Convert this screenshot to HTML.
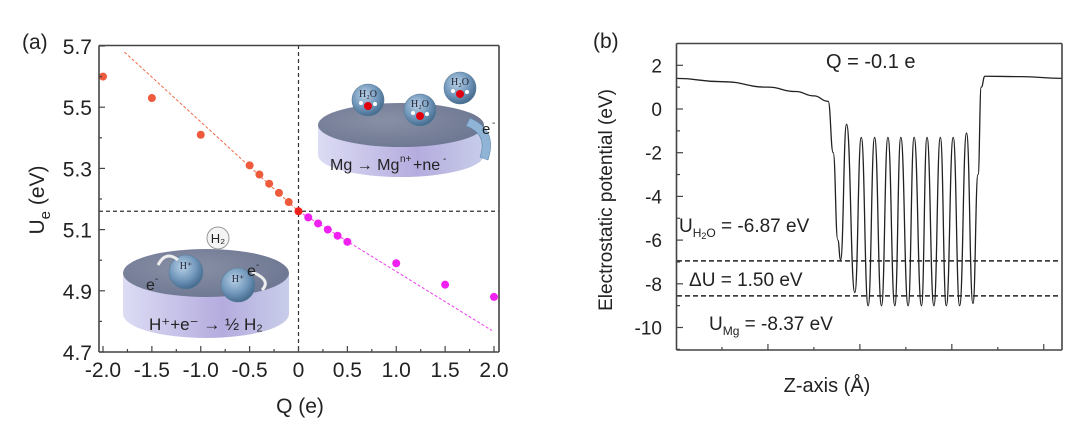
<!DOCTYPE html>
<html><head><meta charset="utf-8"><style>
body{margin:0;background:#fff;width:1080px;height:428px;overflow:hidden}
svg{font-family:"Liberation Sans",Arial,sans-serif}
</style></head><body>
<svg id="fig" width="1080" height="428" viewBox="0 0 1080 428">
<defs>
<linearGradient id="side" x1="0" x2="1" y1="0" y2="0"><stop offset="0" stop-color="#dcdcf4"/><stop offset="0.6" stop-color="#b4acde"/><stop offset="1" stop-color="#c8cdea"/></linearGradient>
<radialGradient id="top" cx="0.4" cy="0.4" r="0.7"><stop offset="0" stop-color="#8890a6"/><stop offset="1" stop-color="#6c7590"/></radialGradient>
<radialGradient id="ball" cx="0.4" cy="0.35" r="0.7"><stop offset="0" stop-color="#b8d0e6"/><stop offset="0.6" stop-color="#6d94b8"/><stop offset="1" stop-color="#3e6486"/></radialGradient>
</defs>
<g id="pa"></g>
<g id="pb"></g>
</svg>
<script>
// ---------- Panel (a) data ----------
const qNeg=[-2,-1.5,-1,-0.5,-0.4,-0.3,-0.2,-0.1,0];
const uNeg=[5.60,5.53,5.41,5.31,5.28,5.25,5.22,5.19,5.16];
const qPos=[0.1,0.2,0.3,0.4,0.5,1,1.5,2];
const uPos=[5.14,5.12,5.10,5.08,5.06,4.99,4.92,4.88];
const fitNeg=[[-1.78,5.68],[0,5.16]];
const fitPos=[[0,5.16],[1.98,4.77]];
const xTicksA=[-2,-1.5,-1,-0.5,0,0.5,1,1.5,2];
const xTickLabelsA=["-2.0","-1.5","-1.0","-0.5","0","0.5","1.0","1.5","2.0"];
const yTicksA=[4.7,4.9,5.1,5.3,5.5,5.7];
const yTickLabelsA=["4.7","4.9","5.1","5.3","5.5","5.7"];
// ---------- Panel (b) data ----------
const zPts=[0,1,2,2.6,3.0,3.31,3.42,3.52,3.58,3.71,3.89,4.03,4.18,4.32,4.47,4.61,4.76,4.89,5.05,5.18,5.34,5.46,5.61,5.75,5.88,6.03,6.17,6.32,6.46,6.57,6.64,6.72,7.5,8.4];
const vPts=[1.4,1.25,1.0,0.8,0.6,0.35,-2,-6,-6.9,-0.7,-8.4,-1.3,-9,-1.3,-9,-1.3,-9,-1.3,-9,-1.3,-9,-1.3,-9,-1.3,-9,-1.3,-9,-1.1,-8.9,-3,1.0,1.5,1.48,1.4];
const uH2O=-6.95, uMg=-8.55;
const yTicksB=[-10,-8,-6,-4,-2,0,2];
const yTickLabelsB=["-10","-8","-6","-4","-2","0","2"];
const zTicksB=[1,2,3,4,5,6,7,8];

const NS="http://www.w3.org/2000/svg";
function mk(p,tag,at,txt){const e=document.createElementNS(NS,tag);for(const k in at)e.setAttribute(k,at[k]);if(txt!==undefined)e.textContent=txt;p.appendChild(e);return e;}
function frame(g,x0,y0,x1,y1){
 [[x0,y0,x1,y0],[x1,y0,x1,y1],[x0,y1,x1,y1],[x0,y0,x0,y1]].forEach(s=>{
  mk(g,'line',{x1:s[0],y1:s[1],x2:s[2],y2:s[3],stroke:'#444','stroke-width':1.6});});
}
// ---- Panel a ----
const A=document.getElementById('pa');
const ax=q=>103+(q+2)*97.75, ay=u=>46+(5.7-u)*306;
let e;
function disk(g,cx,cy,rx,ry,h){
 mk(g,'path',{d:`M${cx-rx},${cy} L${cx-rx},${cy+h} A${rx},${ry} 0 0 0 ${cx+rx},${cy+h} L${cx+rx},${cy} Z`,fill:'url(#side)'});
 mk(g,'ellipse',{cx:cx,cy:cy,rx:rx,ry:ry,fill:'url(#top)'});
}
function ball(g,x,y,r,t,sub){
 mk(g,'circle',{cx:x,cy:y,r:r,fill:'url(#ball)',stroke:'#5a7a96','stroke-width':0.6});
 mk(g,'text',{x:x,y:y-3,'font-family':'Liberation Serif,serif','font-size':10,'text-anchor':'middle',fill:'#223'},t);
 if(sub){mk(g,'circle',{cx:x,cy:y+6,r:4,fill:'#e00010'});mk(g,'circle',{cx:x-7,cy:y+3,r:2,fill:'#fff'});mk(g,'circle',{cx:x+7,cy:y+4,r:2,fill:'#fff'});}
}
const il1=mk(A,'g',{});


disk(il1,401,125,83,22,30);
ball(il1,368,100,16,'H₂O',1);ball(il1,420,110,16,'H₂O',1);ball(il1,460,88,16,'H₂O',1);
mk(il1,'path',{d:'M470,118 Q498,130 488,160 L480,157 Q488,134 466,126 Z',fill:'#8fb4d6',stroke:'#5e86aa','stroke-width':0.6});
mk(il1,'text',{x:330,y:170,'font-size':16,fill:'#222'},'Mg → Mg');
mk(il1,'text',{x:400,y:162,'font-size':10,fill:'#222'},'n+');
mk(il1,'text',{x:413,y:170,'font-size':16,fill:'#222'},'+ne');
mk(il1,'text',{x:443,y:162,'font-size':10,fill:'#222'},'-');
mk(il1,'text',{x:482,y:134,'font-size':15,fill:'#222'},'e');
mk(il1,'text',{x:492,y:126,'font-size':10,fill:'#222'},'-');
const il2=mk(A,'g',{});


disk(il2,206,273,83,24,41);
mk(il2,'circle',{cx:218,cy:238,r:11,fill:'#f4f4f4',stroke:'#999','stroke-width':1});
mk(il2,'text',{x:218,y:243,'font-size':13,'text-anchor':'middle',fill:'#222'},'H₂');
ball(il2,186,272,17,'H⁺',0);ball(il2,238,285,17,'H⁺',0);
mk(il2,'path',{d:'M158,265 Q166,250 178,260',fill:'none',stroke:'#eee','stroke-width':3});
mk(il2,'path',{d:'M252,272 Q272,280 262,290',fill:'none',stroke:'#eee','stroke-width':3});
mk(il2,'text',{x:146,y:290,'font-size':16,fill:'#222'},'e');
mk(il2,'text',{x:155,y:282,'font-size':10,fill:'#222'},'-');
mk(il2,'text',{x:247,y:276,'font-size':16,fill:'#222'},'e');
mk(il2,'text',{x:256,y:268,'font-size':10,fill:'#222'},'-');
mk(il2,'text',{x:149,y:330,'font-size':17,fill:'#222'},'H⁺+e⁻ → ½ H₂');
e=mk(A,'line',{x1:ax(fitNeg[0][0]),y1:ay(fitNeg[0][1]),x2:ax(fitNeg[1][0]),y2:ay(fitNeg[1][1]),stroke:'#f06a4a','stroke-width':1,'stroke-dasharray':'3,2'});


e=mk(A,'line',{x1:ax(fitPos[0][0]),y1:ay(fitPos[0][1]),x2:ax(fitPos[1][0]),y2:ay(fitPos[1][1]),stroke:'#f040f0','stroke-width':1,'stroke-dasharray':'3,2'});


e=mk(A,'line',{x1:99,y1:ay(5.16),x2:499,y2:ay(5.16),stroke:'#333','stroke-width':1.2,'stroke-dasharray':'4,3'});


e=mk(A,'line',{x1:ax(0),y1:45,x2:ax(0),y2:352,stroke:'#333','stroke-width':1.2,'stroke-dasharray':'4,3'});


qNeg.forEach((q,i)=>{const c=mk(A,'circle',{cx:ax(q),cy:ay(uNeg[i]),r:4,fill:i==qNeg.length-1?'#f0201a':'#ee5a3c'});

});
qPos.forEach((q,i)=>{const c=mk(A,'circle',{cx:ax(q),cy:ay(uPos[i]),r:4,fill:'#f020f0'});

});
const fa=mk(A,'g',{});


frame(fa,99,45.5,499,352);
xTicksA.forEach((q,i)=>{mk(A,'line',{x1:ax(q),y1:352,x2:ax(q),y2:346,stroke:'#444','stroke-width':1.2});
 if(i<xTicksA.length-1)mk(A,'line',{x1:ax(q+0.25),y1:352,x2:ax(q+0.25),y2:349,stroke:'#444','stroke-width':1.2});
 const t=mk(A,'text',{x:ax(q),y:377,'font-size':21,'text-anchor':'middle',fill:'#222'},xTickLabelsA[i]);
 
 });
yTicksA.forEach((u,i)=>{mk(A,'line',{x1:99,y1:ay(u),x2:105,y2:ay(u),stroke:'#444','stroke-width':1.2});
 if(i<yTicksA.length-1)mk(A,'line',{x1:99,y1:ay(u+0.1),x2:102,y2:ay(u+0.1),stroke:'#444','stroke-width':1.2});
 const t=mk(A,'text',{x:92,y:ay(u)+8,'font-size':21,'text-anchor':'end',fill:'#222'},yTickLabelsA[i]);
 
 });
e=mk(A,'text',{x:300,y:413,'font-size':21,'text-anchor':'middle',fill:'#222'},'Q (e)');


e=mk(A,'text',{transform:'translate(44,200) rotate(-90)','font-size':21,'text-anchor':'middle',fill:'#222'});
e.innerHTML='U<tspan font-size="15" dy="6">e</tspan><tspan dy="-6"> (eV)</tspan>';


e=mk(A,'text',{x:22,y:49,'font-size':21,fill:'#222'},'(a)');



// ---- Panel b ----
const B=document.getElementById('pb');
const bx=z=>676+z*45.97, by=v=>109-v*21.85;
let d=`M${bx(zPts[0])},${by(vPts[0])}`;
for(let i=1;i<zPts.length;i++){const x0=bx(zPts[i-1]),x1=bx(zPts[i]),y0=by(vPts[i-1]),y1=by(vPts[i]),m=(x0+x1)/2;
 d+=` C${m},${y0} ${m},${y1} ${x1},${y1}`;}
e=mk(B,'path',{d:d,fill:'none',stroke:'#222','stroke-width':1.3});


e=mk(B,'line',{x1:677,y1:by(uH2O),x2:1059,y2:by(uH2O),stroke:'#222','stroke-width':1.5,'stroke-dasharray':'5,3'});


e=mk(B,'line',{x1:677,y1:by(uMg),x2:1059,y2:by(uMg),stroke:'#222','stroke-width':1.5,'stroke-dasharray':'5,3'});


const fb=mk(B,'g',{});


frame(fb,676.5,43.5,1062,350);
zTicksB.forEach(z=>{mk(B,'line',{x1:bx(z),y1:350,x2:bx(z),y2:z%2==0?344:347,stroke:'#444','stroke-width':1.2});});
yTicksB.forEach((v,i)=>{mk(B,'line',{x1:677,y1:by(v),x2:683,y2:by(v),stroke:'#444','stroke-width':1.2});
 mk(B,'line',{x1:677,y1:by(v-1),x2:680,y2:by(v-1),stroke:'#444','stroke-width':1.2});
 const t=mk(B,'text',{x:662,y:by(v)+7,'font-size':19,'text-anchor':'end',fill:'#222'},yTickLabelsB[i]);
 
 });
e=mk(B,'text',{x:826,y:68,'font-size':20,fill:'#222'},'Q = -0.1 e');


e=mk(B,'text',{x:679,y:232,'font-size':19,fill:'#222'});
e.innerHTML='U<tspan font-size="12" dy="5">H</tspan><tspan font-size="9" dy="2">2</tspan><tspan font-size="12" dy="-2">O</tspan><tspan dy="-5"> = -6.87 eV</tspan>';


e=mk(B,'text',{x:689,y:286,'font-size':19,fill:'#222'},'ΔU = 1.50 eV');


e=mk(B,'text',{x:709,y:330,'font-size':19,fill:'#222'});
e.innerHTML='U<tspan font-size="12" dy="5">Mg</tspan><tspan dy="-5"> = -8.37 eV</tspan>';


e=mk(B,'text',{x:827,y:392,'font-size':20,'text-anchor':'middle',fill:'#222'},'Z-axis (Å)');


e=mk(B,'text',{transform:'translate(612,200) rotate(-90)','font-size':19,'text-anchor':'middle',fill:'#222'},'Electrostatic potential (eV)');


e=mk(B,'text',{x:593,y:48,'font-size':21,fill:'#222'},'(b)');


</script>
</body></html>
